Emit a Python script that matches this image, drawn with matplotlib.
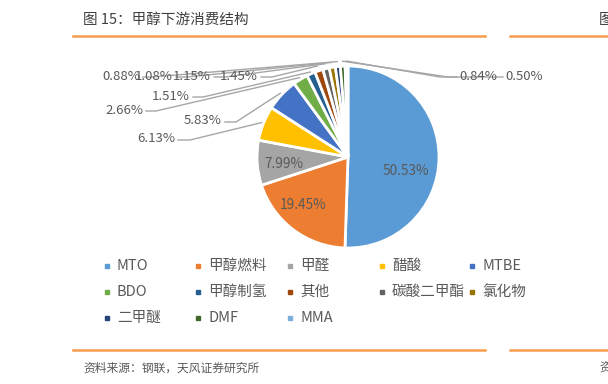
import numpy as np
import matplotlib.pyplot as plt
from matplotlib.patches import Rectangle

plt.rcParams['font.family'] = ['Noto Sans CJK SC', 'DejaVu Sans']

# 数据
categories = ["MTO", "甲醇燃料", "甲醛", "醋酸", "MTBE", "BDO", "甲醇制氢",
              "其他", "碳酸二甲酯", "氯化物", "二甲醚", "DMF", "MMA"]
values = [50.53, 19.45, 7.99, 6.13, 5.83, 2.66, 1.51,
          1.45, 1.15, 1.08, 0.88, 0.84, 0.50]
colors = ["#5B9BD5", "#ED7D31", "#A5A5A5", "#FFC000", "#4472C4", "#70AD47",
          "#255E91", "#9E480E", "#636363", "#997300", "#264478", "#43682B",
          "#7CAFDD"]

W, H = 608, 384
def py(y):
    return H - y

fig = plt.figure(figsize=(6.08, 3.84), dpi=100)
ax = fig.add_axes([0, 0, 1, 1])
ax.set_xlim(0, W)
ax.set_ylim(0, H)
ax.axis('off')

cx, cy, r = 348, py(157), 91
wedges, _ = ax.pie(values, colors=colors, startangle=90, counterclock=False,
                   center=(cx, cy), radius=r,
                   wedgeprops=dict(edgecolor='white', linewidth=2))
ax.set_xlim(0, W)
ax.set_ylim(0, H)

txt = '#595959'
line_c = '#A6A6A6'

# 内部标签
inside = {0: (406, 171), 1: (303, 205), 2: (284, 164)}
for i, (x, y) in inside.items():
    ax.text(x, py(y), f"{values[i]:.2f}%", ha='center', va='center',
            fontsize=9.8, color=txt)

# 外部标签: (x, y, 对齐, 折点x)
outside = {
    3: (175, 139, 'right', 190),
    4: (222, 121, 'right', 236),
    5: (143, 110, 'right', 156),
    6: (190, 96, 'right', 203),
    7: (258, 76, 'right', 272),
    8: (211, 76, 'right', 225),
    9: (173, 76, 'right', 187),
    10: (140, 76, 'right', 152),
    11: (459, 76, 'left', 448),
    12: (505, 76, 'left', 440),
}
for i, (x, y, side, ex) in outside.items():
    w = wedges[i]
    ang = np.deg2rad((w.theta1 + w.theta2) / 2)
    rr = r + (2 if i < 7 else 5)
    px_, py_ = cx + rr * np.cos(ang), cy + rr * np.sin(ang)
    ax.text(x, py(y), f"{values[i]:.2f}%", ha=side, va='center',
            fontsize=9.5, color=txt)
    sx = x + 3 if side == 'right' else x - 2
    ax.plot([sx, ex, px_], [py(y + 1), py(y + 1), py_], color=line_c, lw=1)

# 图例
col_x = [107, 198, 290, 382, 472]
row_y = [266, 292, 318]
for k, (name, c) in enumerate(zip(categories, colors)):
    x = col_x[k % 5]
    y = row_y[k // 5]
    ax.add_patch(Rectangle((x - 2.2, py(y) - 2.2), 4.4, 4.4, color=c))
    ax.text(x + 10, py(y), name, ha='left', va='center', fontsize=10.5, color=txt)

# 标题与来源
orange = '#F59D4D'
ax.text(83, py(20), "图 15：甲醇下游消费结构", ha='left', va='center',
        fontsize=10.5, color='#404040', fontweight='medium')
ax.text(599, py(20), "图", ha='left', va='center', fontsize=10.5, color='#404040')
ax.plot([73, 485], [py(36), py(36)], color=orange, lw=1.8)
ax.plot([510, 608], [py(36), py(36)], color=orange, lw=1.8)
ax.plot([73, 485], [py(350), py(350)], color=orange, lw=1.8)
ax.plot([510, 608], [py(350), py(350)], color=orange, lw=1.8)
ax.text(83, py(368), "资料来源：钢联，天风证券研究所", ha='left', va='center',
        fontsize=8.5, color=txt)
ax.text(599, py(368), "资", ha='left', va='center', fontsize=8.5, color=txt)

fig.savefig("out.png", dpi=100)
